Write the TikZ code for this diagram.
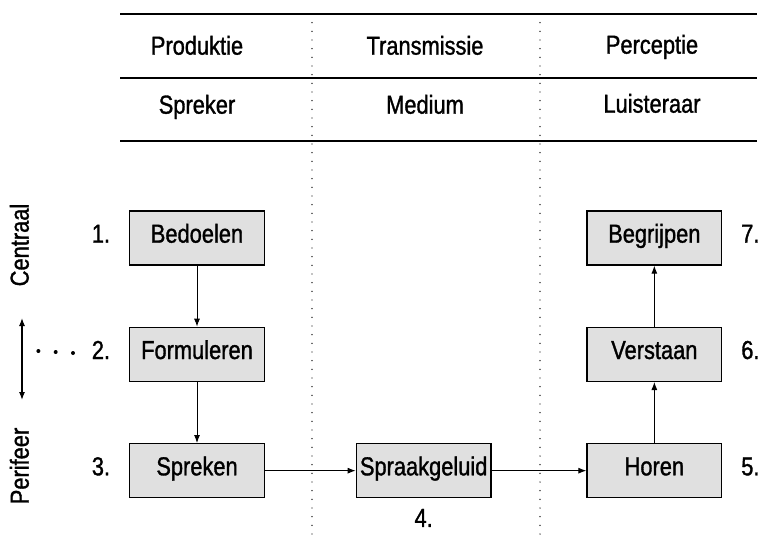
\documentclass[tikz,border=0pt]{standalone}
\usepackage{fontspec}
\setmainfont{Liberation Sans}[FakeStretch=0.84, FakeBold=1.2]
\usetikzlibrary{positioning,arrows.meta}

\begin{document}
\begin{tikzpicture}[
  x=0.75pt, y=-0.75pt,
  font=\fontsize{19.5}{22}\selectfont,
  every node/.style={text height=0.72em, text depth=0.02em},
  box/.style={draw, line width=1pt, fill=black!12, align=center, minimum width=101pt, minimum height=40.5pt, inner sep=2pt},
  num/.style={inner sep=0pt},
  arrow/.style={-{Latex[length=6pt,width=4.5pt]}, line width=0.7pt},
  rule/.style={line width=1.1pt},
  divider/.style={line width=1.1pt, dash pattern=on 0pt off 6.5pt, line cap=round},
  leader/.style={line width=3pt, dash pattern=on 0pt off 13pt, line cap=round}
]
\useasboundingbox (0,0) rectangle (759,535);

% header table
\coordinate (r1l) at (120,14);  \coordinate (r1r) at (757,14);
\coordinate (r2l) at (120,78);  \coordinate (r2r) at (757,78);
\coordinate (r3l) at (120,141); \coordinate (r3r) at (757,141);
\draw[rule] (r1l) -- (r1r);
\draw[rule] (r2l) -- (r2r);
\draw[rule] (r3l) -- (r3r);

\coordinate (d1t) at (312,14); \coordinate (d1b) at (312,535);
\coordinate (d2t) at (540,14); \coordinate (d2b) at (540,535);
\draw[divider] (d1t) -- (d1b);
\draw[divider] (d2t) -- (d2b);

\node (produktie) at (197,50) {Produktie};
\node (transmissie) at (425,50) {Transmissie};
\node (perceptie) at (652,49) {Perceptie};
\node (spreker) at (197,109) {Spreker};
\node (medium) at (425,109) {Medium};
\node (luisteraar) at (652,108) {Luisteraar};

% boxes
\node[box] (bedoelen) at (197,238) {Bedoelen};
\node[box, below=45.75pt of bedoelen] (formuleren) {Formuleren};
\node[box, below=45.75pt of formuleren] (spreken) {Spreken};
\node[box, right=68pt of spreken] (spraak) {Spraakgeluid};
\node[box, right=71pt of spraak] (horen) {Horen};
\node[box, above=45.75pt of horen] (verstaan) {Verstaan};
\node[box, above=45.75pt of verstaan] (begrijpen) {Begrijpen};

% numbers
\node[num, left=14pt of bedoelen] (n1) {1.};
\node[num, left=14pt of formuleren] (n2) {2.};
\node[num, left=14pt of spreken] (n3) {3.};
\node[num, below=14pt of spraak] (n4) {4.};
\node[num, right=14pt of horen] (n5) {5.};
\node[num, right=14pt of verstaan] (n6) {6.};
\node[num, right=14pt of begrijpen] (n7) {7.};

\draw[arrow] (bedoelen) -- (formuleren);
\draw[arrow] (formuleren) -- (spreken);
\draw[arrow] (spreken) -- (spraak);
\draw[arrow] (spraak) -- (horen);
\draw[arrow] (horen) -- (verstaan);
\draw[arrow] (verstaan) -- (begrijpen);

% left axis
\node[rotate=90] (centraal) at (24,245) {Centraal};
\node[rotate=90] (perifeer) at (24,466) {Perifeer};
\coordinate (atop) at (22,318);
\coordinate (abot) at (22,400);
\draw[{Latex[length=6pt,width=4.5pt]}-{Latex[length=6pt,width=4.5pt]}, line width=0.9pt] (atop) -- (abot);
\coordinate (ls) at (73,353);
\coordinate (le) at (38,351);
\draw[leader] (ls) -- (le);

\end{tikzpicture}
\end{document}
